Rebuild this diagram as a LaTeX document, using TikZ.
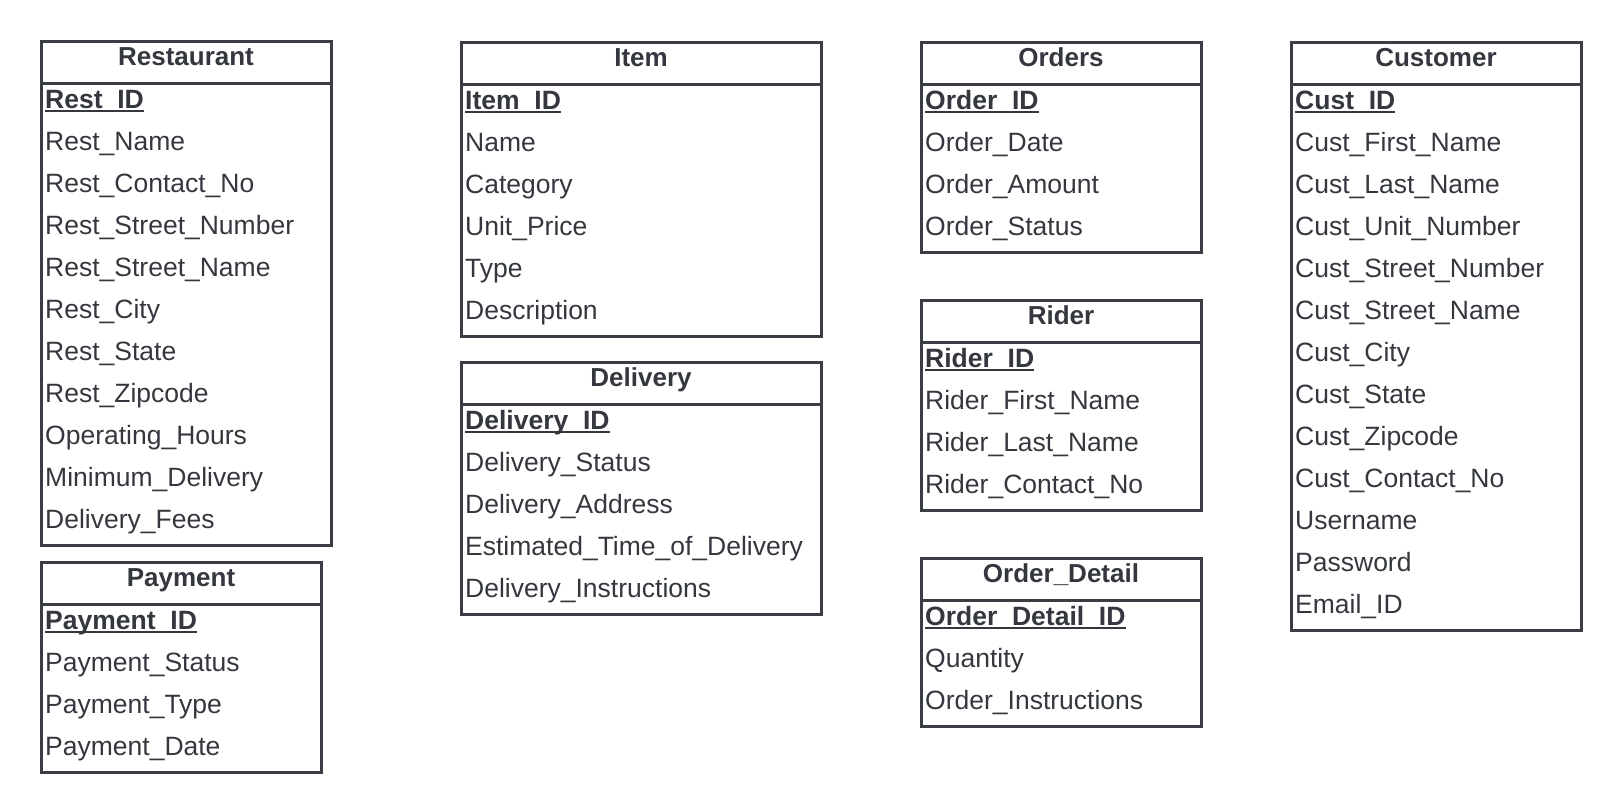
\documentclass[tikz,border=0pt]{standalone}
\usepackage{fontspec}
\setmainfont{Liberation Sans}
\definecolor{boxline}{RGB}{58,62,68}
\definecolor{boxtext}{RGB}{52,56,62}
% key attribute: bold, underlined close to the baseline
\newcommand{\pkey}[1]{\setbox0\hbox{\bfseries #1}\rlap{\rule[-3.5pt]{\wd0}{2.4pt}}\box0}
\tikzset{
  tbl/.style={draw=boxline, line width=3pt},
  hdr/.style={anchor=base, inner sep=0pt, yshift=1.5pt, text=boxtext, font=\fontsize{26}{30}\selectfont\bfseries},
  attr/.style={anchor=base west, inner sep=0pt, xshift=-1pt, yshift=1.5pt, text=boxtext, font=\fontsize{26.5}{30}\selectfont}
}
\begin{document}
\begin{tikzpicture}[x=1pt,y=-1pt]
\useasboundingbox (0,0) rectangle (1620,811);

% Restaurant
\draw[tbl] (41,41) rectangle (331,545);
\draw[tbl] (41,83) -- (331,83);
\node[hdr] (rest) at (186,67) {Restaurant};
\node[attr] (rest-id) at (46,110) {\pkey{Rest\_ID}};
\node[attr] (rest-name) at (46,152) {Rest\_Name};
\node[attr] (rest-contact) at (46,194) {Rest\_Contact\_No};
\node[attr] (rest-stno) at (46,236) {Rest\_Street\_Number};
\node[attr] (rest-stname) at (46,278) {Rest\_Street\_Name};
\node[attr] (rest-city) at (46,320) {Rest\_City};
\node[attr] (rest-state) at (46,362) {Rest\_State};
\node[attr] (rest-zip) at (46,404) {Rest\_Zipcode};
\node[attr] (rest-hours) at (46,446) {Operating\_Hours};
\node[attr] (rest-min) at (46,488) {Minimum\_Delivery};
\node[attr] (rest-fees) at (46,530) {Delivery\_Fees};

% Payment
\draw[tbl] (41,562) rectangle (321,772);
\draw[tbl] (41,604) -- (321,604);
\node[hdr] (pay) at (181,588) {Payment};
\node[attr] (pay-id) at (46,631) {\pkey{Payment\_ID}};
\node[attr] (pay-status) at (46,673) {Payment\_Status};
\node[attr] (pay-type) at (46,715) {Payment\_Type};
\node[attr] (pay-date) at (46,757) {Payment\_Date};

% Item
\draw[tbl] (461,42) rectangle (821,336);
\draw[tbl] (461,84) -- (821,84);
\node[hdr] (item) at (641,68) {Item};
\node[attr] (item-id) at (466,111) {\pkey{Item\_ID}};
\node[attr] (item-name) at (466,153) {Name};
\node[attr] (item-cat) at (466,195) {Category};
\node[attr] (item-price) at (466,237) {Unit\_Price};
\node[attr] (item-type) at (466,279) {Type};
\node[attr] (item-desc) at (466,321) {Description};

% Delivery
\draw[tbl] (461,362) rectangle (821,614);
\draw[tbl] (461,404) -- (821,404);
\node[hdr] (del) at (641,388) {Delivery};
\node[attr] (del-id) at (466,431) {\pkey{Delivery\_ID}};
\node[attr] (del-status) at (466,473) {Delivery\_Status};
\node[attr] (del-addr) at (466,515) {Delivery\_Address};
\node[attr] (del-eta) at (466,557) {Estimated\_Time\_of\_Delivery};
\node[attr] (del-instr) at (466,599) {Delivery\_Instructions};

% Orders
\draw[tbl] (921,42) rectangle (1201,252);
\draw[tbl] (921,84) -- (1201,84);
\node[hdr] (ord) at (1061,68) {Orders};
\node[attr] (ord-id) at (926,111) {\pkey{Order\_ID}};
\node[attr] (ord-date) at (926,153) {Order\_Date};
\node[attr] (ord-amount) at (926,195) {Order\_Amount};
\node[attr] (ord-status) at (926,237) {Order\_Status};

% Rider
\draw[tbl] (921,300) rectangle (1201,510);
\draw[tbl] (921,342) -- (1201,342);
\node[hdr] (rider) at (1061,326) {Rider};
\node[attr] (rider-id) at (926,369) {\pkey{Rider\_ID}};
\node[attr] (rider-first) at (926,411) {Rider\_First\_Name};
\node[attr] (rider-last) at (926,453) {Rider\_Last\_Name};
\node[attr] (rider-contact) at (926,495) {Rider\_Contact\_No};

% Order_Detail
\draw[tbl] (921,558) rectangle (1201,726);
\draw[tbl] (921,600) -- (1201,600);
\node[hdr] (odet) at (1061,584) {Order\_Detail};
\node[attr] (odet-id) at (926,627) {\pkey{Order\_Detail\_ID}};
\node[attr] (odet-qty) at (926,669) {Quantity};
\node[attr] (odet-instr) at (926,711) {Order\_Instructions};

% Customer
\draw[tbl] (1291,42) rectangle (1581,630);
\draw[tbl] (1291,84) -- (1581,84);
\node[hdr] (cust) at (1436,68) {Customer};
\node[attr] (cust-id) at (1296,111) {\pkey{Cust\_ID}};
\node[attr] (cust-first) at (1296,153) {Cust\_First\_Name};
\node[attr] (cust-last) at (1296,195) {Cust\_Last\_Name};
\node[attr] (cust-unit) at (1296,237) {Cust\_Unit\_Number};
\node[attr] (cust-stno) at (1296,279) {Cust\_Street\_Number};
\node[attr] (cust-stname) at (1296,321) {Cust\_Street\_Name};
\node[attr] (cust-city) at (1296,363) {Cust\_City};
\node[attr] (cust-state) at (1296,405) {Cust\_State};
\node[attr] (cust-zip) at (1296,447) {Cust\_Zipcode};
\node[attr] (cust-contact) at (1296,489) {Cust\_Contact\_No};
\node[attr] (cust-user) at (1296,531) {Username};
\node[attr] (cust-pass) at (1296,573) {Password};
\node[attr] (cust-email) at (1296,615) {Email\_ID};

\end{tikzpicture}
\end{document}
